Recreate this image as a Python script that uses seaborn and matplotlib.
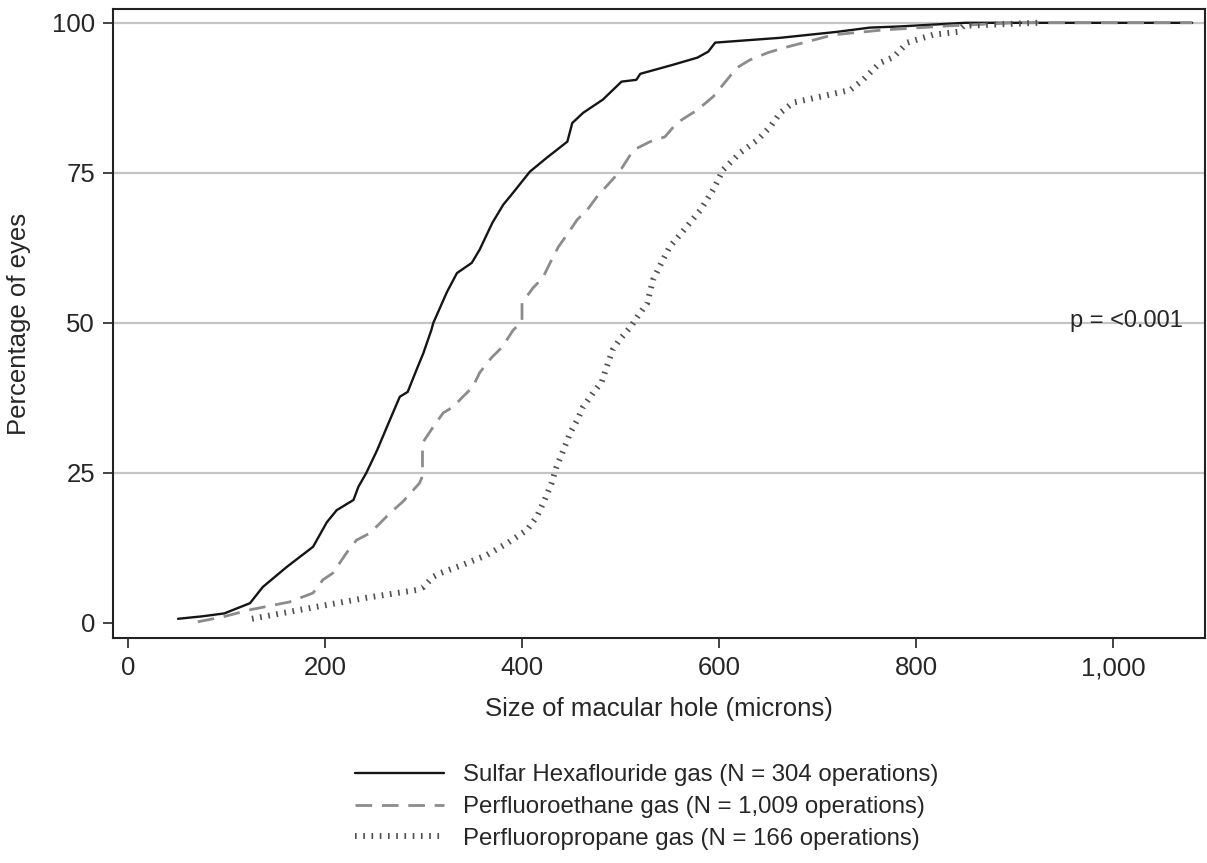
import numpy as np
import pandas as pd
import matplotlib
matplotlib.use("Agg")
import matplotlib.pyplot as plt
import seaborn as sns

# Cumulative percentage of eyes by macular hole size
sf6_size = [51, 75, 98, 124, 137, 161, 188, 202, 212, 229, 234, 242, 253, 263, 276, 284,
            293, 300, 308, 310, 324, 334, 349, 357, 370, 381, 391, 408, 425, 446, 451, 462,
            482, 501, 516, 520, 553, 578, 589, 596, 662, 720, 753, 784, 850, 1080]
sf6_pct = [0.7, 1.1, 1.6, 3.3, 6.0, 9.3, 12.7, 16.8, 18.8, 20.5, 22.7, 25.0, 28.8, 32.7, 37.7, 38.5,
           42.2, 45.0, 48.8, 50.0, 55.2, 58.3, 60.0, 62.2, 66.7, 69.7, 71.7, 75.2, 77.5, 80.2, 83.3, 85.0,
           87.2, 90.2, 90.5, 91.5, 93.0, 94.2, 95.2, 96.7, 97.5, 98.5, 99.2, 99.4, 100, 100]

c2f6_size = [71, 96, 124, 164, 188, 198, 208, 222, 232, 246, 266, 279, 296, 299, 299, 310, 320,
             330, 340, 350, 357, 369, 380, 391, 400, 400, 411, 421, 430, 437, 447, 456, 466, 476,
             499, 513, 530, 545, 557, 578, 594, 608, 618, 631, 649, 665, 716, 766, 834, 900, 1080]
c2f6_pct = [0.2, 1.0, 2.2, 3.5, 5.0, 7.2, 8.3, 11.7, 13.8, 15.0, 18.3, 20.2, 23.3, 24.5, 30.0, 32.7, 35.0,
            36.0, 37.7, 39.3, 41.7, 44.2, 46.0, 48.8, 50.2, 53.3, 55.8, 57.5, 60.5, 62.7, 65.0, 67.2, 68.8, 71.0,
            75.2, 78.8, 80.2, 81.0, 83.3, 85.5, 87.7, 90.5, 92.5, 93.8, 95.0, 95.8, 98.0, 98.8, 99.5, 100, 100]

c3f8_size = [126, 175, 242, 293, 300, 310, 317, 340, 364, 385, 405, 415, 423, 430, 435, 442, 449,
             456, 462, 472, 481, 486, 492, 499, 510, 517, 527, 533, 543, 550, 567, 581, 594, 604,
             621, 639, 652, 662, 675, 703, 733, 746, 763, 777, 791, 817, 842, 848, 923]
c3f8_pct = [0.7, 2.2, 4.2, 5.5, 6.0, 7.7, 8.3, 9.7, 11.3, 13.3, 15.5, 17.7, 20.5, 23.3, 26.0, 28.8, 31.7,
            33.8, 36.0, 38.3, 40.2, 42.7, 45.5, 47.2, 49.3, 51.0, 53.3, 57.2, 60.5, 62.7, 66.0, 68.8, 72.2, 75.5,
            78.3, 80.5, 82.7, 85.0, 86.7, 87.7, 88.8, 90.5, 93.3, 94.3, 96.7, 98.0, 98.5, 99.5, 100]

series_labels = ["Sulfar Hexaflouride gas (N = 304 operations)",
                 "Perfluoroethane gas (N = 1,009 operations)",
                 "Perfluoropropane gas (N = 166 operations)"]
x_ticks = [0, 200, 400, 600, 800, 1000]
x_tick_labels = ["0", "200", "400", "600", "800", "1,000"]
y_ticks = [0, 25, 50, 75, 100]

sns.set_style("white")
plt.rcParams['font.family'] = ['Liberation Sans', 'DejaVu Sans']

fig = plt.figure(figsize=(12.07, 8.63), dpi=100)
ax = fig.add_axes([113 / 1207, 1 - 638 / 863, (1205 - 113) / 1207, (638 - 9) / 863])

styles = [
    dict(color="#151515", linewidth=1.7, linestyle="-"),
    dict(color="#8c8c8c", linewidth=2.0, linestyle=(0, (6, 3.5))),
    dict(color="#505050", linewidth=4.3, linestyle=(0, (0.28, 1.1))),
]
data = [(sf6_size, sf6_pct), (c2f6_size, c2f6_pct), (c3f8_size, c3f8_pct)]

for (xs, ys), lab, st in zip(data, series_labels, styles):
    df = pd.DataFrame({"size": xs, "pct": ys})
    sns.lineplot(data=df, x="size", y="pct", ax=ax, estimator=None, sort=False,
                 label=lab, **st)

ax.set_xlim(-15, 1093)
ax.set_ylim(-2.5, 102.3)
ax.set_xticks(x_ticks)
ax.set_xticklabels(x_tick_labels)
ax.set_yticks(y_ticks)
ax.tick_params(axis="both", direction="out", length=7, width=1.2, color="#222222",
               labelsize=18.5, pad=6, left=True, bottom=True)
ax.yaxis.grid(True, color="#c4c4c4", linewidth=1.6)
ax.get_ygridlines()[0].set_visible(False)
ax.set_axisbelow(True)
for sp in ax.spines.values():
    sp.set_color("#222222")
    sp.set_linewidth(1.5)

ax.set_xlabel("Size of macular hole (microns)", fontsize=18.5, labelpad=12)
ax.set_ylabel("Percentage of eyes", fontsize=18.5, labelpad=15)

ax.text(1071, 50.3, "p = <0.001", fontsize=17, ha="right", va="center")

handles, labels = ax.get_legend_handles_labels()
ax.get_legend().remove()
fig.legend(handles, labels, loc="center left", bbox_to_anchor=(355 / 1207, 1 - 807 / 863),
           frameon=False, fontsize=17.3, handlelength=3.7, handletextpad=0.8,
           labelspacing=0.4, borderpad=0, borderaxespad=0)

fig.savefig("out.png", dpi=100)
